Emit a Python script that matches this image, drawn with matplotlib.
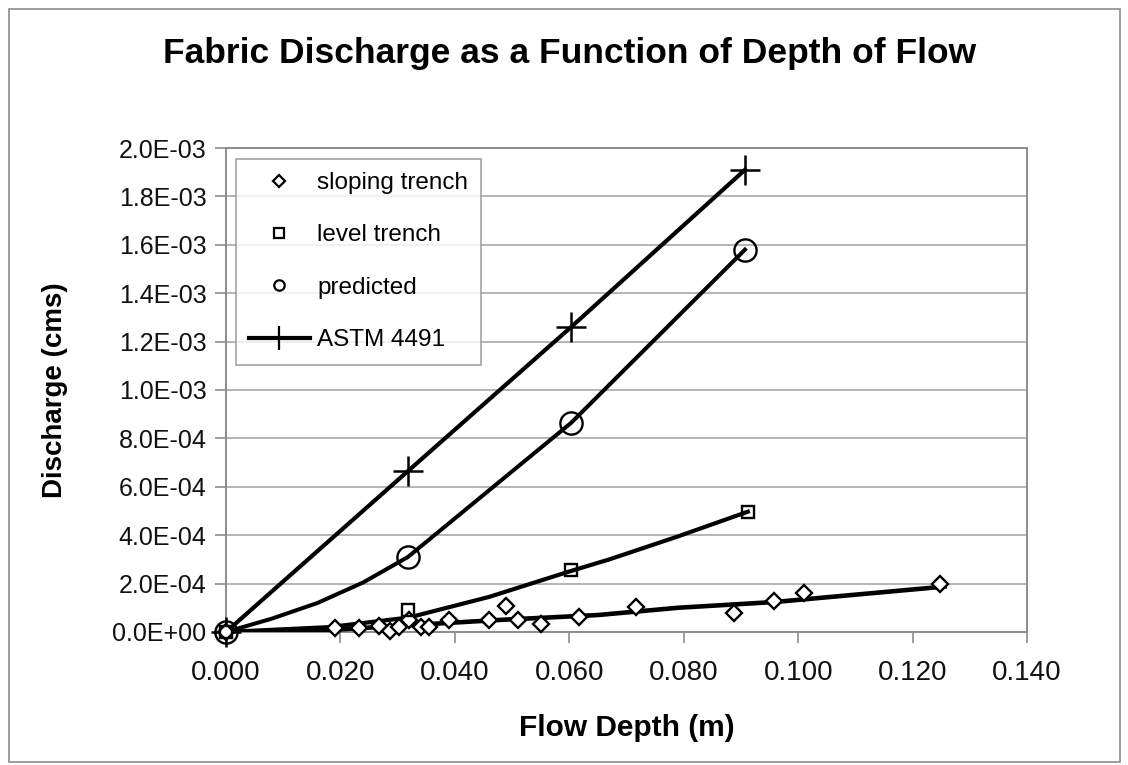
import matplotlib.pyplot as plt
from matplotlib.lines import Line2D
from matplotlib.patches import Rectangle
from matplotlib.ticker import FuncFormatter, MultipleLocator

plt.rcParams["font.family"] = ["Liberation Sans", "DejaVu Sans"]

# sloping trench measurements
sloping_x = [0.0, 0.019, 0.0233, 0.0268, 0.0286, 0.0303, 0.032, 0.034, 0.0355, 0.039,
             0.046, 0.049, 0.051, 0.055, 0.0617, 0.0716, 0.0887, 0.0958, 0.101, 0.1247]
sloping_y = [0.0, 1.7e-5, 1.7e-5, 2.5e-5, 0.5e-5, 2.0e-5, 5.0e-5, 2.0e-5, 2.0e-5, 5.0e-5,
             5.0e-5, 1.07e-4, 5.0e-5, 3.3e-5, 6.2e-5, 1.03e-4, 7.9e-5, 1.28e-4, 1.6e-4, 2.0e-4]
# trend line drawn through the sloping trench points
sloping_fit_x = [0.0, 0.018, 0.032, 0.048, 0.065, 0.079, 0.096, 0.123, 0.1256]
sloping_fit_y = [0.0, 0.8e-5, 2.8e-5, 5.0e-5, 7.0e-5, 1.0e-4, 1.24e-4, 1.82e-4, 1.88e-4]

# level trench measurements
level_x = [0.0, 0.0318, 0.0603, 0.0912]
level_y = [0.0, 9.1e-5, 2.55e-4, 4.97e-4]
level_fit_x = [0.0, 0.018, 0.032, 0.046, 0.060, 0.067, 0.079, 0.0912]
level_fit_y = [0.0, 2.0e-5, 6.0e-5, 1.45e-4, 2.5e-4, 3.0e-4, 3.95e-4, 4.97e-4]

# predicted discharge
predicted_x = [0.0, 0.0318, 0.0603, 0.0907]
predicted_y = [0.0, 3.1e-4, 8.64e-4, 1.58e-3]
predicted_line_x = [0.0, 0.008, 0.016, 0.024, 0.0318, 0.0603, 0.0907]
predicted_line_y = [0.0, 0.55e-4, 1.2e-4, 2.05e-4, 3.1e-4, 8.64e-4, 1.58e-3]

# ASTM 4491
astm_x = [0.0, 0.0318, 0.0603, 0.0907]
astm_y = [0.0, 6.65e-4, 1.26e-3, 1.91e-3]

x_ticks = [0.0, 0.02, 0.04, 0.06, 0.08, 0.10, 0.12, 0.14]

fig = plt.figure(figsize=(11.28, 7.65), dpi=100)
ax = fig.add_axes([0.2004, 0.1739, 0.7101, 0.6326])

# outer chart border
fig.patches.append(Rectangle((0.008, 0.004), 0.985, 0.984, transform=fig.transFigure,
                             fill=False, edgecolor="#8c8c8c", linewidth=1.2))

ax.plot(sloping_fit_x, sloping_fit_y, color="black", linewidth=3.3, zorder=3)
ax.plot(level_fit_x, level_fit_y, color="black", linewidth=3.0, zorder=3)
ax.plot(predicted_line_x, predicted_line_y, color="black", linewidth=2.9, zorder=3)
ax.plot(astm_x, astm_y, color="black", linewidth=3.0, marker="+", markersize=21,
        markeredgewidth=1.8, zorder=4, clip_on=False)

ax.plot(sloping_x, sloping_y, linestyle="none", marker="D", markersize=8.5,
        markerfacecolor="white", markeredgecolor="black", markeredgewidth=1.7, zorder=5,
        clip_on=False)
ax.plot(level_x, level_y, linestyle="none", marker="s", markersize=9,
        markerfacecolor="none", markeredgecolor="black", markeredgewidth=1.7, zorder=5,
        clip_on=False)
ax.plot(predicted_x, predicted_y, linestyle="none", marker="o", markersize=16,
        markerfacecolor="none", markeredgecolor="black", markeredgewidth=1.7, zorder=5,
        clip_on=False)

ax.set_xlim(0, 0.14)
ax.set_ylim(0, 2.0e-3)
ax.set_xticks(x_ticks)
ax.xaxis.set_major_formatter(FuncFormatter(lambda v, p: f"{v:.3f}"))
ax.yaxis.set_major_locator(MultipleLocator(2.0e-4))
ax.yaxis.set_major_formatter(FuncFormatter(lambda v, p: f"{v:.1E}"))

ax.grid(axis="y", color="#a8a8a8", linewidth=1.2)
ax.grid(axis="x", visible=False)
ax.set_axisbelow(True)
for side in ax.spines.values():
    side.set_color("#8c8c8c")
    side.set_linewidth(1.4)
ax.tick_params(axis="both", direction="out", length=8, width=1.2, color="#8c8c8c",
               labelsize=18)
ax.tick_params(axis="x", pad=12, labelsize=20)
ax.tick_params(axis="y", pad=6)
for lab in ax.get_xticklabels() + ax.get_yticklabels():
    lab.set_color("#111111")

fig.text(0.505, 0.930, "Fabric Discharge as a Function of Depth of Flow",
         ha="center", va="center", fontsize=25.5, fontweight="bold")
ax.set_xlabel("Flow Depth (m)", fontsize=21.5, fontweight="bold", labelpad=20)
ax.set_ylabel("Discharge (cms)", fontsize=20, fontweight="bold", labelpad=32)

handles = [
    Line2D([], [], linestyle="none", marker="D", markersize=6.5, markerfacecolor="white",
           markeredgecolor="black", markeredgewidth=1.6),
    Line2D([], [], linestyle="none", marker="s", markersize=7.5, markerfacecolor="white",
           markeredgecolor="black", markeredgewidth=1.6),
    Line2D([], [], linestyle="none", marker="o", markersize=7.5, markerfacecolor="white",
           markeredgecolor="black", markeredgewidth=1.6),
    Line2D([], [], color="black", linewidth=3.0, marker="+", markersize=17,
           markeredgewidth=1.6),
]
labels = ["sloping trench", "level trench", "predicted", "ASTM 4491"]
leg = ax.legend(handles, labels, loc="upper left", bbox_to_anchor=(0.012, 0.978),
                fontsize=17.5, frameon=True, fancybox=False, labelspacing=1.25,
                handlelength=2.5, handletextpad=0.3, borderpad=0.55, borderaxespad=0.0)
leg.get_frame().set_edgecolor("#8c8c8c")
leg.get_frame().set_linewidth(1.2)

plt.savefig("out.png", dpi=100)
